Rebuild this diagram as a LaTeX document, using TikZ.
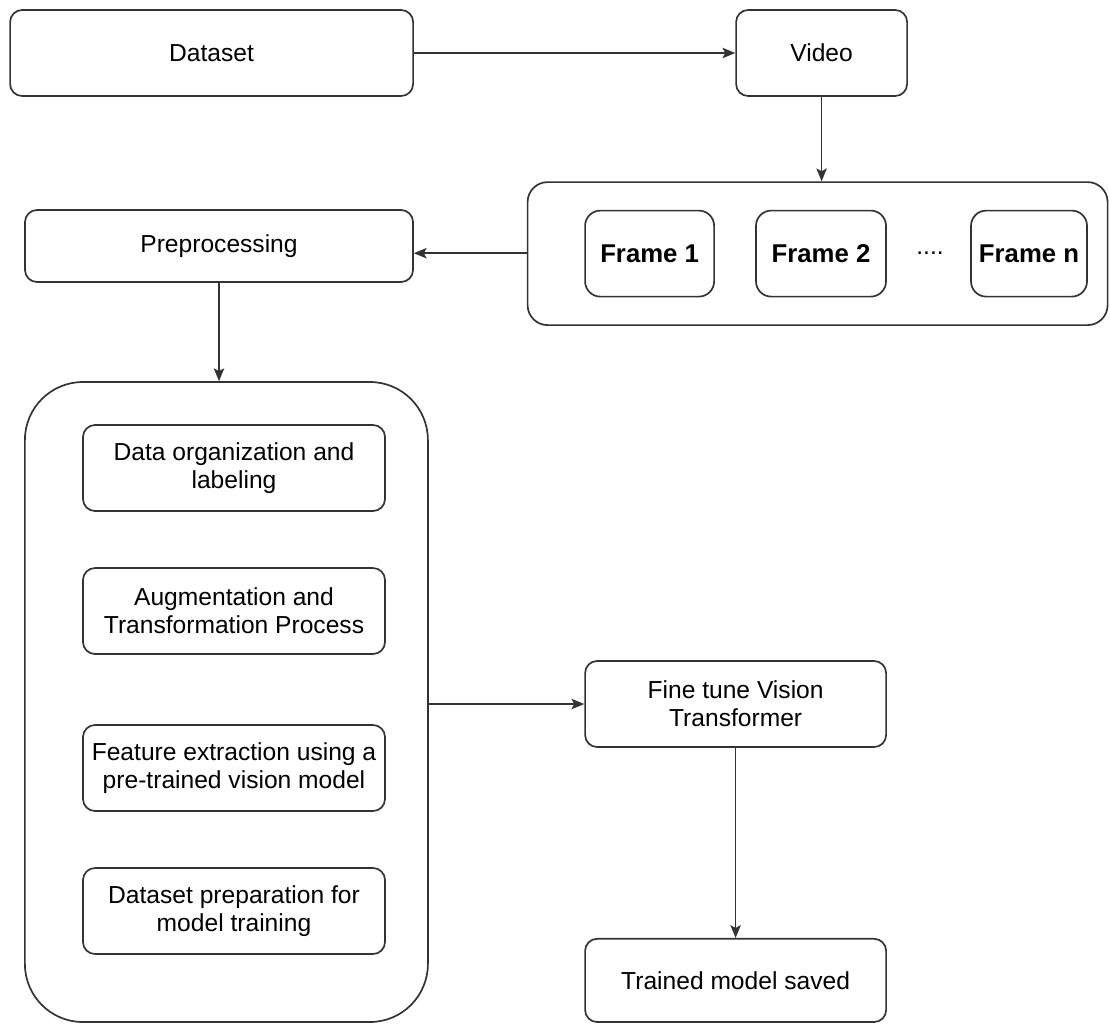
\documentclass[tikz,border=0pt]{standalone}
\usepackage{fontspec}
\setmainfont{Liberation Sans}
\usetikzlibrary{arrows.meta}

\begin{document}
\begin{tikzpicture}[line width=1.2pt,
        box/.style={draw=black!80, rounded corners=0.3cm, align=center, inner sep=0pt,
            font=\fontsize{17.5}{20}\selectfont},
        framebox/.style={draw=black!80, rounded corners=0.38cm, inner sep=0pt,
            minimum height=2.15cm, font=\fontsize{18.3}{20}\selectfont\bfseries},
        group/.style={draw=black!80, inner sep=0pt},
        flow/.style={draw=black!80, -{Stealth[length=0.32cm, width=0.26cm, inset=0.07cm]}}]
        \useasboundingbox (0,0) rectangle (27.75,-25.6);
        \node [box, minimum width=10.075cm, minimum height=2.15cm] (dataset) at (5.29,-1.325) {Dataset};
        \node [box, minimum width=4.275cm, minimum height=2.15cm] (video) at (20.54,-1.325) {Video};
        \node [group, rounded corners=0.5cm, minimum width=14.5cm, minimum height=3.575cm] (frames) at (20.44,-6.34) {};
        \node [framebox, minimum width=3.225cm] (frame1) at (16.24,-6.34) {Frame 1};
        \node [framebox, minimum width=3.25cm] (frame2) at (20.525,-6.34) {Frame 2};
        \node [font=\fontsize{17.5}{20}\selectfont] (dots) at (23.25,-6.34) {....};
        \node [framebox, minimum width=2.9cm] (framen) at (25.725,-6.34) {Frame n};
        \node [box, minimum width=9.7cm, minimum height=1.8cm] (prep) at (5.475,-6.15) {Preprocessing};
        \node [group, rounded corners=1.45cm, minimum width=10.075cm, minimum height=16cm] (steps) at (5.66,-17.55) {};
        \node [box, minimum width=7.55cm, minimum height=2.15cm] (organize) at (5.85,-11.7) {Data organization and\\labeling};
        \node [box, minimum width=7.55cm, minimum height=2.15cm] (augment) at (5.85,-15.275) {Augmentation and\\Transformation Process};
        \node [box, minimum width=7.55cm, minimum height=2.15cm] (features) at (5.85,-19.2) {Feature extraction using a\\pre-trained vision model};
        \node [box, minimum width=7.55cm, minimum height=2.15cm] (trainset) at (5.85,-22.775) {Dataset preparation for\\model training};
        \node [box, minimum width=7.525cm, minimum height=2.15cm] (tune) at (18.39,-17.6) {Fine tune Vision\\Transformer};
        \node [box, minimum width=7.525cm, minimum height=2.08cm] (saved) at (18.39,-24.51) {Trained model saved};
        \draw [flow] (dataset) -- (video);
        \draw [flow] (video.south) -- (video.south |- frames.north);
        \draw [flow] (frames.west |- 0,-6.33) -- (prep.east |- 0,-6.33);
        \draw [flow] (prep.south) -- (prep.south |- steps.north);
        \draw [flow] (steps.east |- tune.west) -- (tune.west);
        \draw [flow] (tune) -- (saved);
\end{tikzpicture}
\end{document}
